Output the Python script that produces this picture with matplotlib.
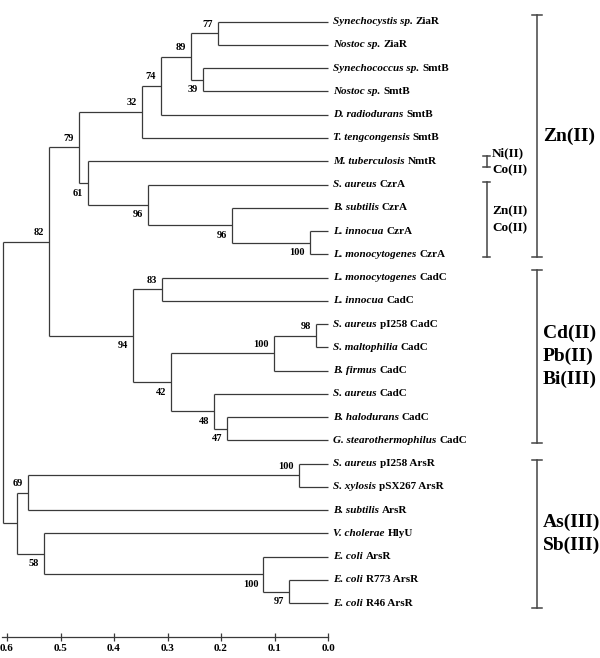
import matplotlib
matplotlib.use("Agg")
import matplotlib.pyplot as plt

# ---------------- data ----------------
species = ["Synechocystis sp.", "Nostoc sp.", "Synechococcus sp.", "Nostoc sp.",
           "D. radiodurans", "T. tengcongensis", "M. tuberculosis", "S. aureus",
           "B. subtilis", "L. innocua", "L. monocytogenes",
           "L. monocytogenes", "L. innocua", "S. aureus", "S. maltophilia",
           "B. firmus", "S. aureus", "B. halodurans", "G. stearothermophilus",
           "S. aureus", "S. xylosis", "B. subtilis", "V. cholerae",
           "E. coli", "E. coli", "E. coli"]
proteins = ["ZiaR", "ZiaR", "SmtB", "SmtB", "SmtB", "SmtB", "NmtR", "CzrA",
            "CzrA", "CzrA", "CzrA",
            "CadC", "CadC", "pI258 CadC", "CadC", "CadC", "CadC", "CadC", "CadC",
            "pI258 ArsR", "pSX267 ArsR", "ArsR", "HlyU", "ArsR", "R773 ArsR",
            "R46 ArsR"]

# merges: (child A, child B, height) ; nodes numbered 26.. in order
merge_a = [0, 2, 26, 28, 29, 9, 8, 7, 6, 30, 11, 13, 37, 17, 16, 38, 36, 35,
           19, 44, 24, 23, 22, 45, 43]
merge_b = [1, 3, 27, 4, 5, 10, 31, 32, 33, 34, 12, 14, 15, 18, 39, 40, 41, 42,
           20, 21, 25, 46, 47, 48, 49]
merge_h = [0.206, 0.234, 0.256, 0.312, 0.348, 0.034, 0.179, 0.336, 0.449,
           0.465, 0.310, 0.023, 0.101, 0.189, 0.213, 0.293, 0.365, 0.521,
           0.054, 0.561, 0.073, 0.121, 0.531, 0.581, 0.608]
bootstrap = [77, 39, 89, 74, 32, 100, 96, 96, 61, 79, 83, 98, 100, 47, 48,
             42, 94, 82, 100, 69, 97, 100, 58, None, None]
label_side = ["above", "below", "above", "above", "above", "below", "below",
              "below", "below", "above", "above", "above", "above", "below",
              "below", "below", "below", "above", "above", "above", "below",
              "below", "below", None, None]

# metal groups: (text lines, first leaf, last leaf, column)
groups = [
    (["Zn(II)"], 0, 10, "outer"),
    (["Cd(II)", "Pb(II)", "Bi(III)"], 11, 18, "outer"),
    (["As(III)", "Sb(III)"], 19, 25, "outer"),
    (["Ni(II)", "Co(II)"], 6, 6, "inner"),
    (["Zn(II)", "Co(II)"], 7, 10, "inner"),
]
scale_ticks = [0.6, 0.5, 0.4, 0.3, 0.2, 0.1, 0.0]

# ---------------- layout helpers ----------------
W, H = 600, 658
X0, PXU = 328.0, 535.0           # pixel of distance 0, pixels per unit
Y0, PYL = 21.7, 23.26            # pixel of first leaf, pixels per leaf


def xd(px):
    return (X0 - px) / PXU


def yd(py):
    return (py - Y0) / PYL


SERIF = ["Liberation Serif", "DejaVu Serif"]
LC = "#3a3a3a"

fig = plt.figure(figsize=(W / 100, H / 100), dpi=100)
ax = fig.add_axes([0, 0, 1, 1])
ax.set_xlim(xd(0), xd(W))
ax.set_ylim(yd(H), yd(0))

n_leaf = len(species)
node_x = [0.0] * n_leaf
node_y = list(range(n_leaf))

for a, b, h, bs, side in zip(merge_a, merge_b, merge_h, bootstrap, label_side):
    ya, yb = node_y[a], node_y[b]
    ax.plot([h, h], [ya, yb], color=LC, lw=0.9, solid_capstyle="butt")
    ax.plot([h, node_x[a]], [ya, ya], color=LC, lw=0.9, solid_capstyle="butt")
    ax.plot([h, node_x[b]], [yb, yb], color=LC, lw=0.9, solid_capstyle="butt")
    ym = (ya + yb) / 2
    node_x.append(h)
    node_y.append(ym)
    if bs is not None:
        dy = 9 if side == "above" else -10
        ax.annotate(str(bs), xy=(h, ym), xytext=(-5, dy),
                    textcoords="offset pixels", ha="right", va="center",
                    fontsize=7.5, fontweight="bold", family=SERIF)

# leaf labels
for i, (sp, pr) in enumerate(zip(species, proteins)):
    t1 = ax.annotate(sp, xy=(0, i), xytext=(5, 0), textcoords="offset pixels",
                     ha="left", va="center", fontsize=8, fontweight="bold",
                     fontstyle="italic", family=SERIF)
    ax.annotate(pr, xy=(1, 0.5), xycoords=t1, xytext=(3, 0),
                textcoords="offset pixels", ha="left", va="center",
                fontsize=8, fontweight="bold", family=SERIF)

# metal brackets
pads = {0: (-0.27, 0.12), 11: (-0.33, 0.12), 19: (-0.16, 0.2),
        6: (-0.22, 0.25), 7: (-0.12, 0.12)}
for lines, first, last, col in groups:
    top, bot = pads[first]
    y1, y2 = first + top, last + bot
    if col == "outer":
        bx, cap, fs, lh = xd(537), 5, 14, 1.0
    else:
        bx, cap, fs, lh = xd(486.5), 3.5, 9.5, 0.72
    ax.plot([bx, bx], [y1, y2], color="#444444", lw=1.1)
    for yy in (y1, y2):
        ax.plot([bx + cap / PXU, bx - cap / PXU], [yy, yy], color="#444444",
                lw=1.1)
    ymid = (y1 + y2) / 2
    n = len(lines)
    for k, txt in enumerate(lines):
        yy = ymid + (k - (n - 1) / 2) * lh
        ax.text(bx - (6 if col == "outer" else 5.5) / PXU, yy, txt,
                ha="left", va="center", fontsize=fs, fontweight="bold",
                family=SERIF)

# scale axis
for s in ["top", "left", "right"]:
    ax.spines[s].set_visible(False)
ax.spines["bottom"].set_position(("data", yd(637)))
ax.spines["bottom"].set_bounds(0.0, 0.61)
ax.spines["bottom"].set_color(LC)
ax.spines["bottom"].set_linewidth(0.9)
ax.set_xticks(scale_ticks)
ax.set_xticklabels([f"{t:.1f}" for t in scale_ticks])
ax.tick_params(axis="x", direction="inout", length=6, width=0.9, color=LC,
               pad=2, labelsize=8)
for lab in ax.get_xticklabels():
    lab.set_fontweight("bold")
    lab.set_family(SERIF)
ax.set_yticks([])

fig.savefig("out.png", dpi=100)
